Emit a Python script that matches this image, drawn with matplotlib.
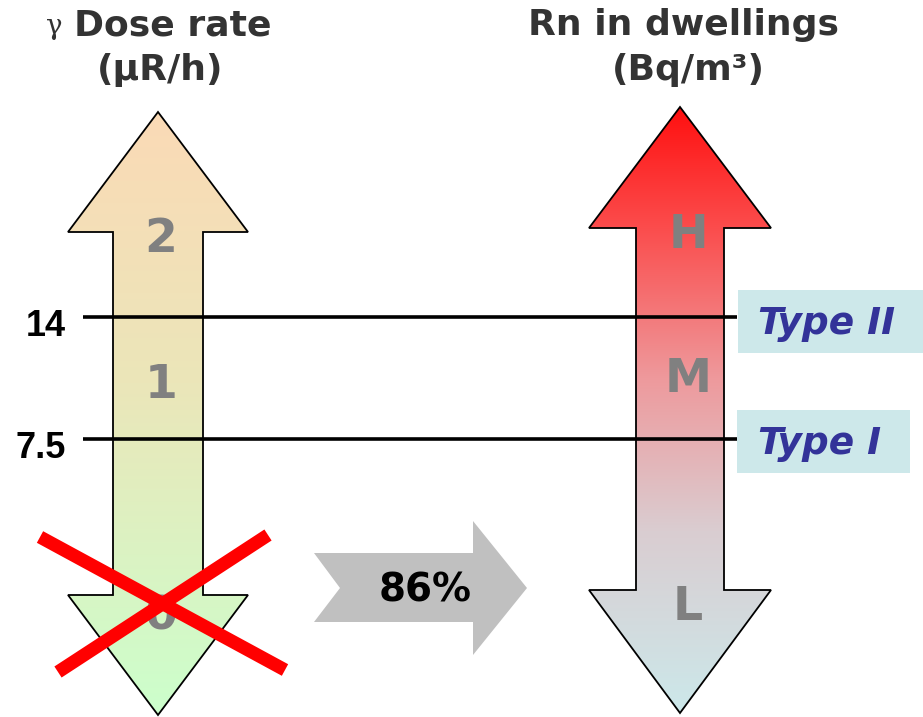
import numpy as np
import matplotlib
matplotlib.use("Agg")
import matplotlib.pyplot as plt
from matplotlib.patches import Polygon, Rectangle
from matplotlib.colors import to_rgb

# ---- data / labels ----
dose_title = ["Dose rate", "(\u03bcR/h)"]
rn_title = ["Rn in dwellings", "(Bq/m\u00b3)"]
dose_levels = ["0", "1", "2"]
rn_levels = ["L", "M", "H"]
thresholds = ["14", "7.5"]
type_labels = ["Type II", "Type I"]
percent = 86

fig = plt.figure(figsize=(9.23, 7.17), dpi=100)
ax = fig.add_axes([0, 0, 1, 1])
ax.set_xlim(0, 923)
ax.set_ylim(717, 0)
ax.axis("off")


def double_arrow(cx, sh, hh, ytip_top, yhead_top, yhead_bot, ytip_bot):
    return [(cx, ytip_top), (cx + hh, yhead_top), (cx + sh, yhead_top),
            (cx + sh, yhead_bot), (cx + hh, yhead_bot), (cx, ytip_bot),
            (cx - hh, yhead_bot), (cx - sh, yhead_bot), (cx - sh, yhead_top),
            (cx - hh, yhead_top)]


def gradient_arrow(pts, stops, zorder=2):
    ys = [p[1] for p in pts]
    xs = [p[0] for p in pts]
    y0, y1 = min(ys), max(ys)
    n = 300
    t = np.linspace(0, 1, n)
    pos = [s[0] for s in stops]
    cols = np.array([to_rgb(s[1]) for s in stops])
    img = np.zeros((n, 1, 3))
    for c in range(3):
        img[:, 0, c] = np.interp(t, pos, cols[:, c])
    poly = Polygon(pts, closed=True, facecolor="none", edgecolor="black",
                   lw=1.3, zorder=zorder + 1)
    ax.add_patch(poly)
    im = ax.imshow(img, extent=(min(xs), max(xs), y1, y0), origin="upper",
                   aspect="auto", zorder=zorder, interpolation="bilinear")
    im.set_clip_path(poly)


# left arrow (gamma dose rate)
left_pts = double_arrow(158, 45, 90, 112, 232, 595, 715)
gradient_arrow(left_pts, [(0, "#fbdab6"), (0.45, "#ebe6b9"), (1, "#ccffcc")])

# right arrow (Rn)
right_pts = double_arrow(680, 44, 91, 107, 228, 590, 713)
gradient_arrow(right_pts, [(0, "#ff1010"), (0.2, "#fb4d4d"), (0.45, "#ee9a9d"),
                           (0.7, "#dacdd1"), (1, "#cce8ea")])

# level labels
gray = "#808080"
for lab, y in zip(dose_levels, [617, 385, 240]):
    ax.text(161, y, lab, ha="center", va="center", fontsize=34,
            fontweight="bold", color=gray, family="DejaVu Sans", zorder=5)
for lab, y in zip(rn_levels, [607, 379, 236]):
    ax.text(688, y, lab, ha="center", va="center", fontsize=34,
            fontweight="bold", color=gray, family="DejaVu Sans", zorder=5)

# threshold lines
for lab, y in zip(thresholds, [317, 439]):
    ax.plot([83, 737], [y, y], color="black", lw=2.6, zorder=6,
            solid_capstyle="butt")
    ax.text(66, y + 9, lab, ha="right", va="center", fontsize=26,
            fontweight="bold", color="black", family="Liberation Sans",
            zorder=6)

# type boxes
for lab, (bx0, bx1, by0, by1) in zip(type_labels,
                                     [(738, 923, 290, 353), (737, 910, 410, 473)]):
    ax.add_patch(Rectangle((bx0, by0), bx1 - bx0, by1 - by0,
                           facecolor="#cde8ea", edgecolor="none", zorder=4))
    ax.text(758, (by0 + by1) / 2 + 2, lab, ha="left", va="center",
            fontsize=27, fontweight="bold", style="italic", color="#333399",
            family="DejaVu Sans", zorder=7)

# red cross
ax.plot([40, 285], [537, 670], color="#ff0000", lw=9.5, zorder=8,
        solid_capstyle="butt")
ax.plot([268, 58], [535, 672], color="#ff0000", lw=9.5, zorder=8,
        solid_capstyle="butt")

# gray chevron arrow
gpts = [(314, 553), (473, 553), (473, 521), (527, 588), (473, 655),
        (473, 622), (314, 622), (340, 588)]
ax.add_patch(Polygon(gpts, closed=True, facecolor="#c0c0c0",
                     edgecolor="none", zorder=3))
ax.text(425, 590, f"{percent}%", ha="center", va="center", fontsize=28,
        fontweight="bold", color="black", family="DejaVu Sans", zorder=5)

# titles
title_col = "#333333"
ax.text(54, 27, "\u03b3", ha="center", va="center", fontsize=20,
        color=title_col, family="DejaVu Serif", zorder=5)
ax.text(173, 25, dose_title[0], ha="center", va="center", fontsize=26,
        fontweight="bold", color=title_col, family="DejaVu Sans")
ax.text(160, 70, dose_title[1], ha="center", va="center", fontsize=26,
        fontweight="bold", color=title_col, family="DejaVu Sans")
ax.text(683, 25, rn_title[0], ha="center", va="center", fontsize=26,
        fontweight="bold", color=title_col, family="DejaVu Sans")
ax.text(688, 70, rn_title[1], ha="center", va="center", fontsize=26,
        fontweight="bold", color=title_col, family="DejaVu Sans")

ax.set_xlim(0, 923)
ax.set_ylim(717, 0)
fig.savefig("out.png", dpi=100)
